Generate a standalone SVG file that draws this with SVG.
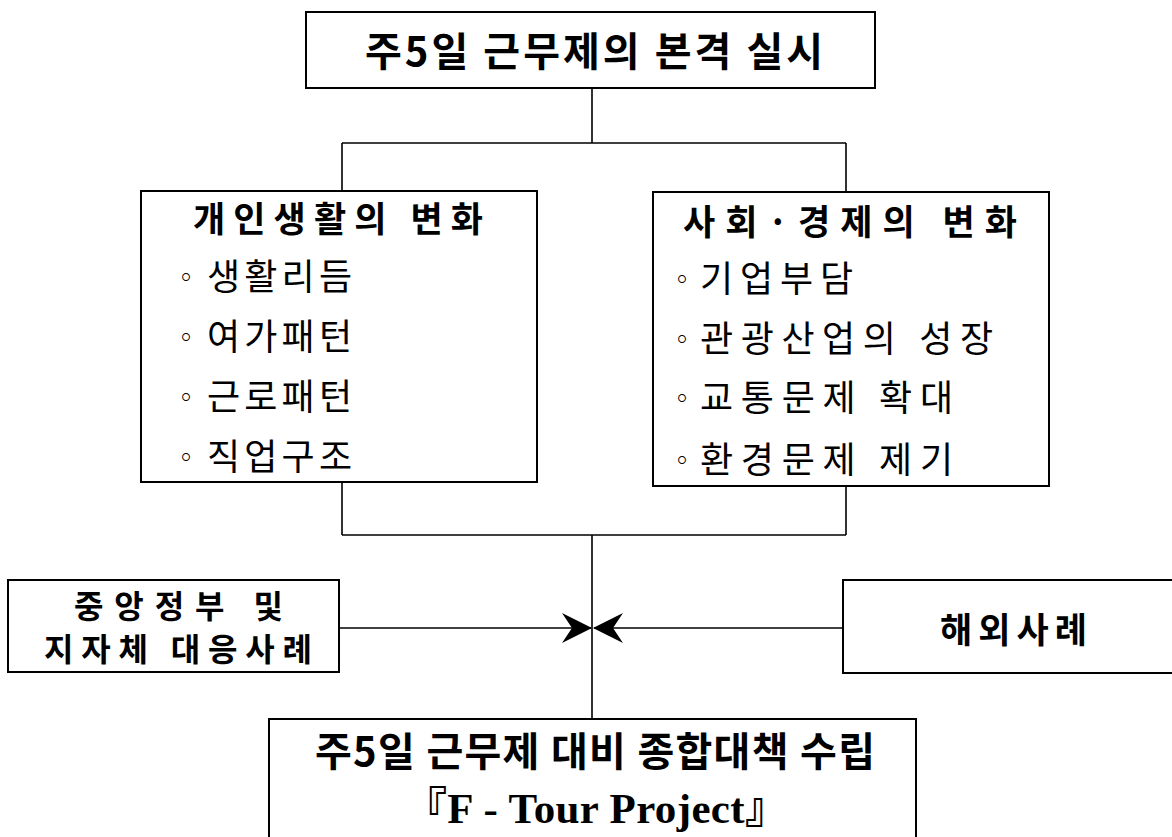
<svg xmlns="http://www.w3.org/2000/svg" width="1172" height="837" viewBox="0 0 1172 837">
<style>
.box{fill:#fff;stroke:#000;stroke-width:2}
.ln{fill:none;stroke:#000;stroke-width:1.6}
.ko{font-family:"Noto Sans CJK KR","Noto Sans",sans-serif;fill:#000}
.b{font-weight:bold}
.t{font-size:40px}
.h{font-size:35px}
.s{font-size:32px}
.i{font-size:36px}
.bul{font-family:"Noto Sans CJK KR","DejaVu Sans",sans-serif;font-size:26px;fill:#000}
.lat{font-family:"Liberation Serif","Noto Sans CJK KR",serif;font-weight:bold;font-size:43px;fill:#000}
</style>
<defs>
<marker id="ah" viewBox="0 0 30 30" refX="29" refY="15" markerWidth="30" markerHeight="30" markerUnits="userSpaceOnUse" orient="auto">
<path d="M0,0 L30,15 L0,30 L10,15 Z" fill="#000"/>
</marker>
</defs>
<rect width="1172" height="837" fill="#fff"/>
<g id="connectors">
<path class="ln" d="M592,88 V143 M342,143 H846 M342,143 V191 M846,143 V192"/>
<path class="ln" d="M342,482 V535 M846,486 V535 M342,535 H846 M592,535 V719"/>
<line class="ln" x1="339" y1="628" x2="591" y2="628" marker-end="url(#ah)"/>
<line class="ln" x1="843" y1="628" x2="594" y2="628" marker-end="url(#ah)"/>
</g>
<g id="top">
<rect class="box" x="306" y="12" width="569" height="76"/>
<text class="ko b t" x="365" y="66" textLength="458" lengthAdjust="spacing">주5일 근무제의 본격 실시</text>
</g>
<g id="personal">
<rect class="box" x="141" y="191" width="396" height="291"/>
<text class="ko b h" x="193" y="232" textLength="290" lengthAdjust="spacing">개인생활의 변화</text>
<text class="bul" x="173" y="287">◦</text>
<text class="ko i" x="207" y="290" textLength="145" lengthAdjust="spacing">생활리듬</text>
<text class="bul" x="173" y="347">◦</text>
<text class="ko i" x="207" y="350" textLength="145" lengthAdjust="spacing">여가패턴</text>
<text class="bul" x="173" y="407">◦</text>
<text class="ko i" x="207" y="410" textLength="145" lengthAdjust="spacing">근로패턴</text>
<text class="bul" x="173" y="467">◦</text>
<text class="ko i" x="207" y="470" textLength="145" lengthAdjust="spacing">직업구조</text>
</g>
<g id="social">
<rect class="box" x="653" y="192" width="396" height="294"/>
<text class="ko b h" x="683" y="235" textLength="334" lengthAdjust="spacing">사회·경제의 변화</text>
<text class="bul" x="669" y="289">◦</text>
<text class="ko i" x="700" y="292" textLength="153" lengthAdjust="spacing">기업부담</text>
<text class="bul" x="669" y="349">◦</text>
<text class="ko i" x="700" y="352" textLength="293" lengthAdjust="spacing">관광산업의 성장</text>
<text class="bul" x="669" y="408">◦</text>
<text class="ko i" x="700" y="411" textLength="253" lengthAdjust="spacing">교통문제 확대</text>
<text class="bul" x="669" y="470">◦</text>
<text class="ko i" x="700" y="473" textLength="253" lengthAdjust="spacing">환경문제 제기</text>
</g>
<g id="domestic">
<rect class="box" x="8" y="580" width="331" height="92"/>
<text class="ko b s" x="74" y="618" textLength="209" lengthAdjust="spacing">중앙정부 및</text>
<text class="ko b s" x="44" y="661" textLength="268" lengthAdjust="spacing">지자체 대응사례</text>
</g>
<g id="overseas">
<rect class="box" x="843" y="580" width="342" height="93"/>
<text class="ko b h" x="940" y="643" textLength="147" lengthAdjust="spacing">해외사례</text>
</g>
<g id="result">
<rect class="box" x="269" y="719" width="647" height="130"/>
<text class="ko b t" x="315" y="766" textLength="560" lengthAdjust="spacing">주5일 근무제 대비 종합대책 수립</text>
<text class="lat" x="404" y="823" textLength="384" lengthAdjust="spacing">『F - Tour Project』</text>
</g>
</svg>
